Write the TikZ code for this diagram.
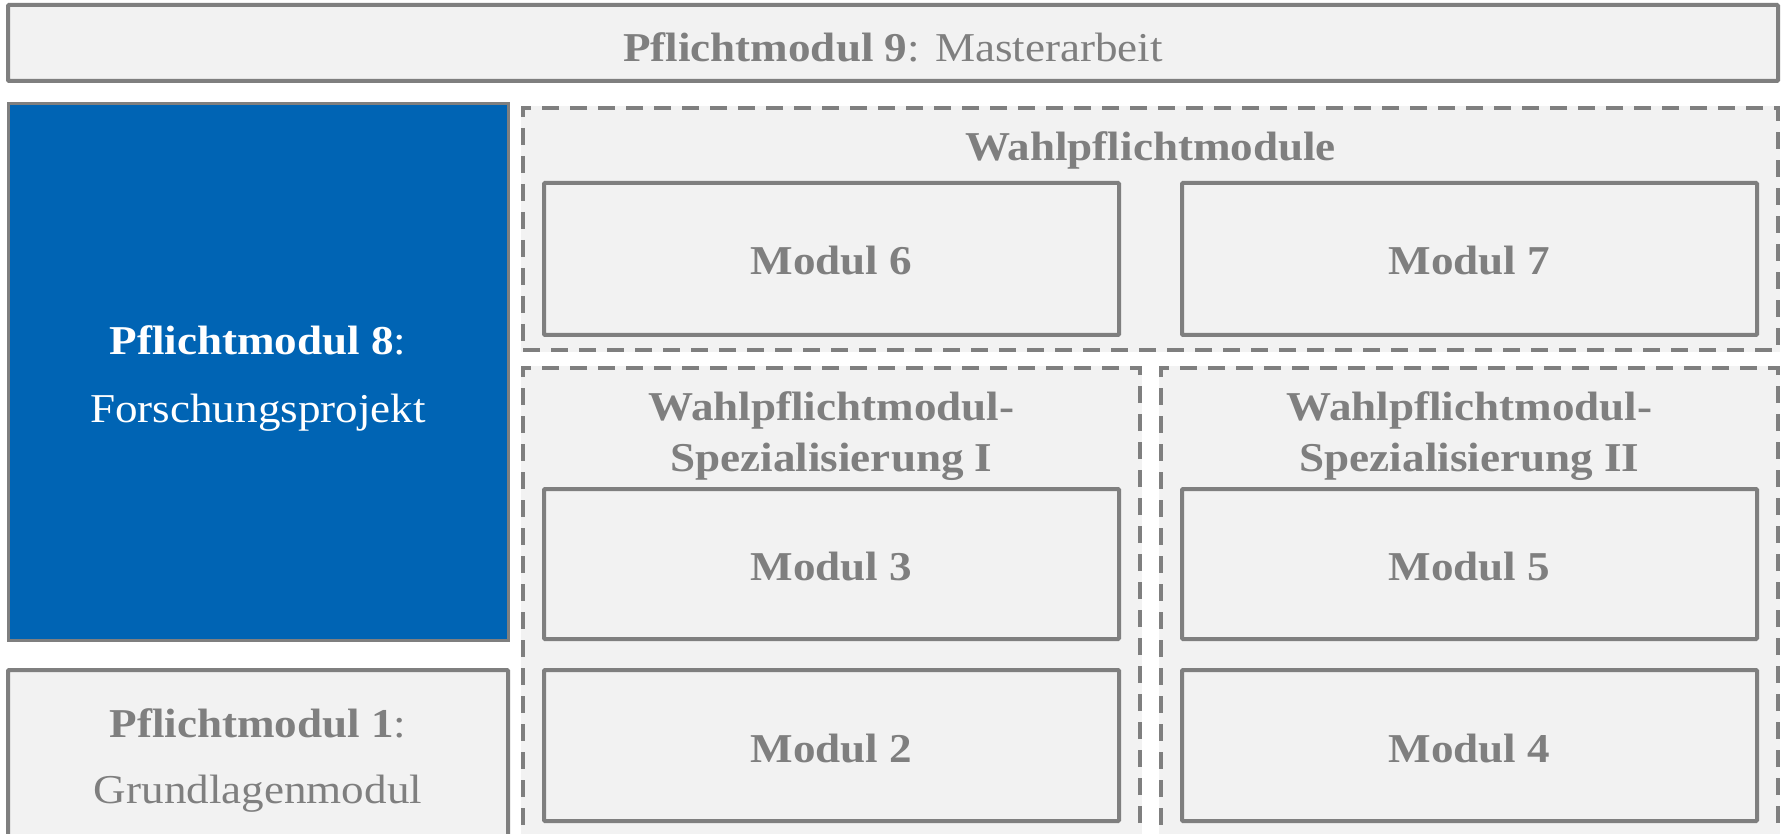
\documentclass[tikz,border=0pt]{standalone}
\usepackage{fontspec}
\setmainfont{Liberation Serif}[FakeStretch=1.1]
\definecolor{boxgray}{HTML}{7F7F7F}
\definecolor{boxfill}{HTML}{F2F2F2}
\definecolor{tumblue}{HTML}{0064B4}
\tikzset{
  solidbox/.style={draw=boxgray, fill=boxfill, line width=4pt, rounded corners=1pt, inner sep=0pt},
  bluebox/.style={draw=boxgray, fill=tumblue, line width=3pt, inner sep=0pt},
  dashbox/.style={draw=boxgray, fill=boxfill, line width=4.5pt, dash pattern=on 17pt off 11pt,
    preaction={draw=boxfill, solid, line width=4.5pt}, inner sep=0pt},
  lbl/.style={anchor=base, inner sep=0pt, text=boxgray, font=\fontsize{41}{41}\selectfont},
  wlbl/.style={lbl, text=white},
}
\begin{document}
\begin{tikzpicture}[x=1pt,y=-1pt]
\path[use as bounding box] (0,0) rectangle (1781,834);
\clip (0,0) rectangle (1781,834);
\fill[white] (0,0) rectangle (1781,834);

% outer boxes
\node[solidbox, minimum width=1770pt, minimum height=76pt] (pm9) at (893,43) {};
\node[bluebox, minimum width=500pt, minimum height=536pt] (pm8) at (258,372) {};
\node[solidbox, minimum width=500pt, minimum height=172pt] (pm1) at (258,756) {};

% dashed groups
\node[dashbox, minimum width=1255pt, minimum height=242pt] (wahl) at (1150.5,229) {};
\node[dashbox, minimum width=617pt, minimum height=482pt] (spezI) at (831.5,609) {};
\node[dashbox, minimum width=617pt, minimum height=482pt] (spezII) at (1469.5,609) {};

% module boxes
\node[solidbox, minimum width=575pt, minimum height=152pt] (m6) at (831.5,259) {};
\node[solidbox, minimum width=575pt, minimum height=152pt] (m7) at (1469.5,259) {};
\node[solidbox, minimum width=575pt, minimum height=150pt] (m3) at (831.5,564) {};
\node[solidbox, minimum width=575pt, minimum height=150pt] (m5) at (1469.5,564) {};
\node[solidbox, minimum width=575pt, minimum height=151pt] (m2) at (831.5,745.5) {};
\node[solidbox, minimum width=575pt, minimum height=151pt] (m4) at (1469.5,745.5) {};

% labels
\node[lbl] (t9) at (893,61.5) {\textbf{Pflichtmodul 9}: Masterarbeit};
\node[wlbl] (t8a) at (258,355) {\textbf{Pflichtmodul 8}:};
\node[wlbl] (t8b) at (258,422) {Forschungsprojekt};
\node[lbl] (t1a) at (258,737) {\textbf{Pflichtmodul 1}:};
\node[lbl] (t1b) at (258,803) {Grundlagenmodul};
\node[lbl] (tw) at (1150.5,161) {\textbf{Wahlpflichtmodule}};
\node[lbl] (t6) at (831.5,275) {\textbf{Modul 6}};
\node[lbl] (t7) at (1469.5,275) {\textbf{Modul 7}};
\node[lbl] (tsIa) at (831.5,420) {\textbf{Wahlpflichtmodul-}};
\node[lbl] (tsIb) at (831.5,471) {\textbf{Spezialisierung I}};
\node[lbl] (tsIIa) at (1469.5,420) {\textbf{Wahlpflichtmodul-}};
\node[lbl] (tsIIb) at (1469.5,471) {\textbf{Spezialisierung II}};
\node[lbl] (t3) at (831.5,580) {\textbf{Modul 3}};
\node[lbl] (t5) at (1469.5,580) {\textbf{Modul 5}};
\node[lbl] (t2) at (831.5,762) {\textbf{Modul 2}};
\node[lbl] (t4) at (1469.5,762) {\textbf{Modul 4}};
\end{tikzpicture}
\end{document}
